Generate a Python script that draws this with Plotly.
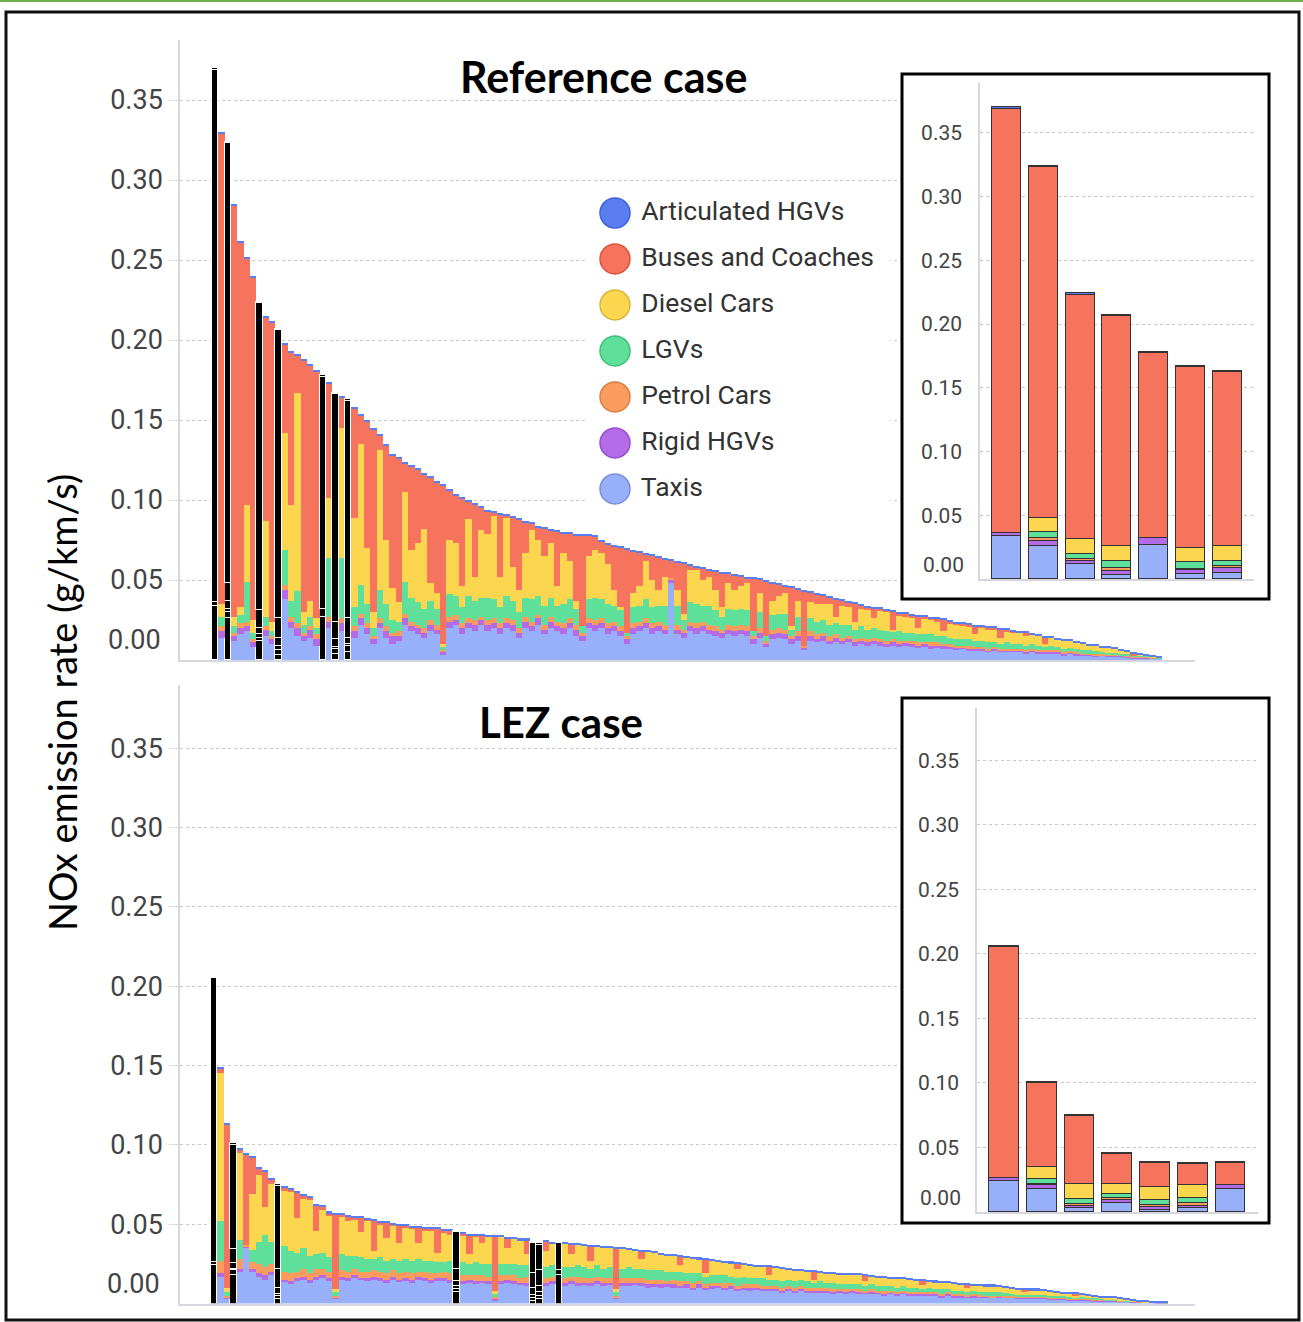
import plotly.graph_objects as go

# ---------------- DATA (values in mg/km/s = 0.001 g/km/s) ----------------
categories = ["Articulated HGVs", "Buses and Coaches", "Diesel Cars", "LGVs",
              "Petrol Cars", "Rigid HGVs", "Taxis"]
stack_order = ["Taxis", "Rigid HGVs", "Petrol Cars", "LGVs", "Diesel Cars",
               "Buses and Coaches", "Articulated HGVs"]
y_ticks = [0.05, 0.10, 0.15, 0.20, 0.25, 0.30, 0.35]
y_tick_labels = ["0.05", "0.10", "0.15", "0.20", "0.25", "0.30", "0.35"]

# Reference case (streets sorted by total NOx)
ref_taxis = [34,14,26,12,16,18,8,12,15,10, 3,38,20,15,12,14,9,27,20,4,
             18,5,14,22,16,10,20,14,10,12, 22,18,16,14,18,16,3,20,22,16,
             20,18,22,18,20,16,20,18,14,20, 18,22,16,20,18,16,20,15,12,20,
             18,20,16,18,15,10,16,18,20,16, 18,16,48,16,14,18,16,18,16,15,
             14,16,15,16,15,10,14,8,13,14, 13,10,12,6,12,11,12,10,11,10,
             11,9,10,9,10,9,8,9,8,9, 8,8,8,7,8,7,7,6,7,6,
             6,6,5,6,5,5,5,5,4,5, 4,4,4,4,3,4,3,3,3,2,
             2.5,2,2,2,1.5,1,1,1,1,0.8]
ref_rigid = [2,4,4,3,4,3,3,2,4,3, 3,6,4,5,3,5,4,5,4,3,
             5,4,4,4,4,3,3,4,5,3, 4,3,4,3,4,3,2,4,3,4,
             3,4,3,4,3,4,3,4,3,4, 3,4,3,4,3,4,3,4,3,3,
             4,3,4,3,3,3,4,3,3,4, 3,3,2,3,3,3,4,3,3,3,
             3,3,3,3,3,3,3,2,3,3, 3,3,3,2,3,2,3,2,3,2,
             2,2,2,2,2,2,2,2,2,2, 2,1,2,2,1,2,1,2,1,1,
             1,1,1,1,1,1,1,1,1,1, 1,1,1,1,1,0.5,1,0.5,0.5,1,
             0.5,0.5,0.5,0.5,0.5,0.5,0.5,0.5,0.2,0.2]
ref_petrol = [0,3,2,2,3,3,2,2,2,2, 3,3,3,3,2,2,3,0,3,1,
              3,1,3,3,3,2,3,3,2,3, 3,3,2,3,3,3,1,3,3,3,
              3,3,2,3,3,3,3,3,3,3, 3,2,3,3,3,3,3,3,2,3,
              3,3,3,3,3,2,3,3,3,3, 3,3,1,3,2,3,3,3,3,3,
              2,3,3,3,3,2,3,2,3,3, 3,2,3,1,3,3,2,3,2,2,
              2,2,2,2,2,2,2,2,2,1, 2,2,1,2,2,1,2,1,1,2,
              1,1,1,1,1,1,1,1,1,1, 1,1,1,1,1,1,1,0.5,0.5,0.5,
              0.5,0.5,0.5,0.5,0.5,0.5,0.5,0.5,0.3,0.2]
ref_lgv = [0,6,5,4,5,25,4,4,6,3, 5,22,10,20,5,6,4,0,37,5,
           38,4,12,18,12,5,18,14,8,6, 20,15,14,12,12,10,2,14,12,10,
           14,12,12,14,12,10,14,12,10,12, 14,12,12,12,10,12,12,10,4,12,
           14,12,12,10,10,2,10,10,12,10, 10,12,0,12,6,12,12,10,12,10,
           8,10,10,10,10,3,10,3,9,9, 10,4,9,0,8,8,8,7,7,8,
           7,6,7,6,6,6,6,5,6,5, 5,5,5,5,4,5,4,4,4,4,
           4,4,4,3,3,4,3,3,3,3, 3,2,3,2,2,2,2,2,2,2,
           1.5,1.5,1.5,1,1,0.5,0.5,0.5,0.3,0.2]
ref_diesel = [0,8,11,6,5,48,8,11,60,6, 12,73,60,124,8,10,6,0,37,11,
              81,12,56,88,35,10,87,40,20,12, 56,30,37,50,11,10,2,34,33,13,
              48,15,42,40,52,19,49,21,14,28, 43,35,31,34,12,32,24,5,0,27,
              30,29,25,10,2,0,9,12,24,17, 10,18,0,10,4,20,21,16,18,13,
              6,16,13,14,17,0,12,0,9,11, 13,2,10,0,10,11,10,13,4,12,
              11,5,11,12,6,12,12,1,10,10, 9,4,10,9,9,3,9,9,8,8,
              4,8,8,8,4,7,7,7,6,6, 6,2,5,5,5,4.5,4,4,3,3.5,
              3,3,2.5,2,1.5,0,1,0.5,0.2,0.1]
ref_buses = [333,294,275,257,228,154,214,192,127,187, 180,55,95,23,157,147,154,145,72,142,
             19,136,68,18,79,114,9,59,83,90, 18,52,46,34,66,69,99,31,30,55,
             11,45,14,14,2,39,1,31,44,19, 4,8,17,8,34,12,17,41,57,13,
             8,7,12,27,37,52,26,21,4,15, 20,11,11,17,31,3,2,7,4,11,
             21,6,9,6,3,33,8,34,11,7, 4,24,7,34,6,6,5,4,11,3,
             3,11,2,2,6,1,1,11,1,2, 2,7,1,1,2,7,1,1,2,1,
             5,1,1,1,5,1,1,0,2,0, 0,4,0,0,0,0,0,0,0,0,
             0,0,0,0,0,1.5,0,0,0,0]
ref_artic = [1,1,1,1,1,1,1,1,1,1, 1,1,1,1,1,1,1,1,1,1,
             1,1,1,1,1,1,1,1,1,1, 1,1,1,1,1,1,1,1,1,1,
             1,1,1,1,1,1,1,1,1,1, 1,1,1,1,1,1,1,1,1,1,
             1,1,1,1,1,1,1,1,1,1, 1,1,1,1,1,1,1,1,1,1,
             1,1,1,1,1,1,1,1,1,1, 1,1,1,1,1,1,1,1,1,1,
             1,1,1,1,1,1,1,1,1,1, 1,1,1,1,1,1,1,1,1,1,
             1,1,1,1,1,1,1,1,1,1, 1,1,1,1,1,1,1,1,1,1,
             1,1,1,1,1,1,1,1,1,1]
ref_highlight = [0, 2, 7, 10, 17, 19, 21]

# LEZ case
lez_taxis = [24,17,3,18,20,35,20,17,15,18, 3,14,12,14,15,13,15,16,14,3,
             15,14,16,15,14,15,14,13,15,14, 14,13,15,14,13,14,14,13,7,12,
             13,12,13,12,2,12,13,12,12,11, 1.5,3,11,12,18,11,12,11,12,11,
             12,11,12,3,11,11,12,11,10,11, 10,11,10,10,10,9,10,9,9,10,
             9,9,8,9,8,9,8,8,8,7, 8,7,8,7,7,7,7,6,7,6,
             7,6,6,6,6,5,6,5,6,5, 5,5,5,5,4,5,4,4,4,4,
             4,4,3.5,4,3.5,3.5,3,3,3,3, 3,2.5,2.5,2.5,2,2,2,2,1.5,1.5,
             1.5,1.5,1.2,1,0.8,0.6,0.5,0.4,0.3,0.2]
lez_rigid = [2,2,1,3,2,1,2,2,3,2, 1.5,1,2,2,2,2,2,2,2,1,
             2,2,2,1,2,2,2,2,2,1, 2,2,2,2,2,2,2,2,2,2,
             2,2,1,2,1,2,2,2,1,2, 2,2,2,2,3,2,2,2,1,2,
             2,2,1,1,2,2,1,2,2,1, 2,1,2,1,2,1,2,1,2,1,
             1,2,1,1,2,1,1,1,1,1, 1,1,1,1,1,1,1,1,1,1,
             1,1,1,1,1,1,1,1,1,1, 1,1,1,1,1,1,1,1,0.5,1,
             0.5,0.5,0.5,0.5,0.5,0.5,0.5,0.5,0.5,0.5, 0.5,0.5,0.5,0.5,0.5,0.5,0.5,0.5,0.5,0.5,
             0.3,0.3,0.3,0.3,0.2,0.2,0.1,0.1,0.05,0.05]
lez_petrol = [0,8,1,1,6,1,4,6,5,5, 1.5,5,5,4,5,4,5,4,4,1,
              4,4,4,4,4,4,4,4,4,4, 4,4,3,4,4,3,4,4,2,4,
              3,4,4,3,1,4,3,4,3,4, 2,2,3,3,0,3,3,4,3,3,
              3,3,3,1,3,3,3,3,3,3, 3,2,3,3,2,3,2,2,2,2,
              3,2,2,2,2,2,2,2,2,2, 2,2,2,2,2,2,2,2,1,2,
              1,2,1,2,1,2,1,1,1,1, 1,1,1,1,1,1,1,1,1,1,
              1,0.5,1,0.5,0.5,0.5,0.5,0.5,0.5,0.5, 0.5,0.5,0.5,0.5,0.5,0.5,0.5,0.5,0.5,0.5,
              0.2,0.2,0.2,0.2,0.2,0.2,0.1,0.1,0.05,0.05]
lez_lgv = [0,25,2,3.5,12,0,8,14,20,14, 4,16,14,12,13,11,9,10,9,2,
           10,10,8,9,8,7,9,8,7,8, 8,8,8,7,8,7,6,8,3,8,
           7,8,7,8,2,7,7,7,8,7, 4,4,7,7,0,7,6,7,7,6,
           7,6,7,2,6,7,6,6,6,6, 6,6,5,6,5,6,5,5,5,5,
           5,4,5,5,4,4,5,4,4,4, 4,4,4,4,3,4,3,4,3,3,
           3,3,3,3,3,3,3,3,3,3, 3,2,3,2,3,2,2,2,2,2,
           2,2,2,2,2,1.5,1.5,1.5,1.5,1.5, 1.5,1.5,1,1,1,1,1,1,1,0.5,
           0.5,0.5,0.5,0.4,0.3,0.2,0.1,0.1,0.05,0.05]
lez_diesel = [0,93,3,9,55,0,35,42,18,36, 12,35,37,22,31,35,15,27,26,2,
              24,22,23,16,24,5,21,14,21,11, 20,20,10,19,19,6,19,16,8,17,
              6,16,13,17,2,17,10,16,16,7, 10,10,10,14,0,14.5,8,13,13.5,5,
              12,13.5,12,2,12.5,11,11.5,6,11.5,11, 10,10.5,10,4,10,9.5,9,2,9,8.5,
              8,8.5,6,7.5,8,7.5,7,3,7.5,8, 6.5,7,5.5,6,2,5.5,6,6,6.5,6.5,
              6,6,3,5,5.5,5.5,5,6,4.5,5, 4.5,2.5,4,4.5,4,4,4.5,4,2.5,3.5,
              4,4,4,3.5,3.5,3.5,3.5,2,3,3, 2.5,2.5,2.5,2,2,1,1.5,1,1,1,
              1,1,0.8,0.6,0.5,0.3,0.2,0.1,0.05,0.05]
lez_buses = [179,3,103,65.5,2,57,23,4,22,3, 52,2,2,16,2,2,16,2,2,47,
             1,3,1,9,1,19,1,10,1,11, 1,1,10,1,1,15,1,3,23,1,
             12,1,5,0,34,0,6,0,0,9, 18.5,16,6,0,17,0,6,0,0,9,
             0,0,0,25.5,0,0,0,5,0,0, 0,0,0,5.5,0,0,0,8.5,0,0,
             0,0,3,0,0,0,0,5,0,0, 0,0,0,0,5,0,0,0,0,0,
             0,0,3.5,0,0,0,0,0,0,0, 0,3,0,0,0,0,0,0,2,0,
             0,0,0,0,0,0,0,1.5,0,0, 0,0,0,0,0,1,0,0,0,0,
             0,0,0,0,0,0,0,0,0,0]
lez_artic = [1,1,1,1,1,1,1,1,1,1, 1,1,1,1,1,1,1,1,1,1,
             1,1,1,1,1,1,1,1,1,1, 1,1,1,1,1,1,1,1,1,1,
             1,1,1,1,1,1,1,1,1,1, 1,1,1,1,1,1,1,1,1,1,
             1,1,1,1,1,1,1,1,1,1, 1,1,1,1,1,1,1,1,1,1,
             1,1,1,1,1,1,1,1,1,1, 1,1,1,1,1,1,1,1,1,1,
             1,1,1,1,1,1,1,1,1,1, 1,1,1,1,1,1,1,1,1,1,
             1,1,1,1,1,1,1,1,1,1, 1,1,1,1,1,1,1,1,1,1,
             1,1,1,1,1,1,1,1,1,0.6]
lez_highlight = [0, 3, 10, 38, 50, 51, 54]

ref_data = {"Taxis": ref_taxis, "Rigid HGVs": ref_rigid, "Petrol Cars": ref_petrol,
            "LGVs": ref_lgv, "Diesel Cars": ref_diesel, "Buses and Coaches": ref_buses,
            "Articulated HGVs": ref_artic}
lez_data = {"Taxis": lez_taxis, "Rigid HGVs": lez_rigid, "Petrol Cars": lez_petrol,
            "LGVs": lez_lgv, "Diesel Cars": lez_diesel, "Buses and Coaches": lez_buses,
            "Articulated HGVs": lez_artic}

# ---------------- STYLE ----------------
COL = {"Articulated HGVs": "#5a7ef2", "Buses and Coaches": "#f6735d",
       "Diesel Cars": "#fdd650", "LGVs": "#5fe09a", "Petrol Cars": "#f99c5e",
       "Rigid HGVs": "#b46be8", "Taxis": "#98affa"}
EDGE = {"Articulated HGVs": "#3f63d8", "Buses and Coaches": "#d9553f",
        "Diesel Cars": "#d9b43a", "LGVs": "#43bf7c", "Petrol Cars": "#d97e42",
        "Rigid HGVs": "#9350c9", "Taxis": "#7a90d8"}
AXC = "#d6d6e0"
GRIDC = "#c8c8c8"
TICKC = "#444444"

W, H = 1303, 1322


def fx(p):
    return p / W


def fy(p):
    return 1 - p / H


fig = go.Figure()


def add_main(data, highlight, xa, ya):
    n = len(data["Taxis"])
    xs = list(range(n))
    for cat in stack_order:
        fig.add_trace(go.Bar(
            x=xs, y=[v / 1000 for v in data[cat]], width=1,
            marker=dict(color=["#000000" if i in highlight else COL[cat] for i in xs],
                        line=dict(color="white", width=[1 if i in highlight else 0 for i in xs])),
            xaxis=xa, yaxis=ya, showlegend=False, hoverinfo="skip"))


def add_inset(data, highlight, xa, ya):
    xs = list(range(len(highlight)))
    for cat in stack_order:
        fig.add_trace(go.Bar(
            x=xs, y=[data[cat][i] / 1000 for i in highlight], width=0.79,
            marker=dict(color=COL[cat], line=dict(color="#333333", width=1.4)),
            xaxis=xa, yaxis=ya, showlegend=False, hoverinfo="skip"))


add_main(ref_data, ref_highlight, "x", "y")
add_main(lez_data, lez_highlight, "x2", "y2")
add_inset(ref_data, ref_highlight, "x3", "y3")
add_inset(lez_data, lez_highlight, "x4", "y4")

# custom legend with round swatches
fig.add_trace(go.Scatter(
    x=[0] * len(categories), y=list(range(len(categories) - 1, -1, -1)),
    mode="markers+text", text=[" " + c for c in categories], textposition="middle right",
    textfont=dict(family="Roboto", size=26.5, color="#333333"),
    marker=dict(size=30, color=[COL[c] for c in categories],
                line=dict(color=[EDGE[c] for c in categories], width=1.5)),
    xaxis="x5", yaxis="y5", showlegend=False, hoverinfo="skip", cliponaxis=False))

# ---------------- LAYOUT ----------------
n_ref = len(ref_taxis)
n_lez = len(lez_taxis)
u_ref = (1162 - 212) / n_ref
u_lez = (1168 - 211) / n_lez
xr_ref = [-0.5 - (212 - 180) / u_ref, n_ref - 0.5 + (1195 - 1162) / u_ref]
xr_lez = [-0.5 - (211 - 180) / u_lez, n_lez - 0.5 + (1195 - 1168) / u_lez]
yr_ref = (660 - 40) / 1600
yr_lez = (1303.5 - 685) / 1587


def main_x(dom, rng, anchor):
    return dict(domain=dom, range=rng, anchor=anchor, showticklabels=False, showgrid=False,
                zeroline=False, showline=True, linecolor=AXC, linewidth=1.5, ticks="")


def main_y(dom, top, anchor):
    return dict(domain=dom, range=[0, top], anchor=anchor, tickvals=y_ticks,
                ticktext=y_tick_labels,
                showgrid=True, gridcolor=GRIDC, griddash="dot", gridwidth=1,
                zeroline=False, showline=True, linecolor=AXC, linewidth=1.5,
                ticks="outside", ticklen=9, tickcolor="#dddddd",
                tickfont=dict(family="Roboto", size=27, color=TICKC),
                ticklabelstandoff=1)


def inset_x(dom, anchor):
    return dict(domain=dom, range=[-0.72, 6.73], anchor=anchor, showticklabels=False,
                showgrid=False, zeroline=False, showline=True, linecolor=AXC,
                linewidth=1.5, ticks="")


def inset_y(dom, top, anchor):
    return dict(domain=dom, range=[0, top], anchor=anchor, tickvals=y_ticks,
                ticktext=y_tick_labels,
                showgrid=True, gridcolor=GRIDC, griddash="dot", gridwidth=1,
                zeroline=False, showline=True, linecolor=AXC, linewidth=1.5, ticks="",
                tickfont=dict(family="Roboto", size=21, color=TICKC),
                ticklabelstandoff=12)


fig.update_layout(
    width=W, height=H, margin=dict(l=0, r=0, t=0, b=0),
    paper_bgcolor="white", plot_bgcolor="white",
    barmode="stack", bargap=0, showlegend=False,
    xaxis=main_x([fx(180), fx(1195)], xr_ref, "y"),
    yaxis=main_y([fy(660), fy(40)], yr_ref, "x"),
    xaxis2=main_x([fx(180), fx(1195)], xr_lez, "y2"),
    yaxis2=main_y([fy(1303.5), fy(685)], yr_lez, "x2"),
    xaxis3=inset_x([fx(980), fx(1254)], "y3"),
    yaxis3=inset_y([fy(579), fy(83)], (579 - 83) / 1275, "x3"),
    xaxis4=inset_x([fx(977), fx(1258)], "y4"),
    yaxis4=inset_y([fy(1212), fy(708)], (1212 - 708) / 1291, "x4"),
    xaxis5=dict(domain=[fx(595), fx(890)], range=[-20, 275], visible=False, anchor="y5"),
    yaxis5=dict(domain=[fy(510), fy(195)], range=[-0.457, 6.391], visible=False, anchor="x5"),
)

# inset frames
for (x0, y0, x1, y1) in [(902, 74, 1269, 599), (902, 698, 1269, 1223)]:
    fig.add_shape(type="rect", xref="paper", yref="paper",
                  x0=fx(x0), x1=fx(x1), y0=fy(y1), y1=fy(y0),
                  line=dict(color="black", width=3), fillcolor="rgba(0,0,0,0)", layer="above")

# outer frame and green rule
fig.add_shape(type="rect", xref="paper", yref="paper", x0=fx(6), x1=fx(1299),
              y0=fy(1320), y1=fy(12), line=dict(color="#111111", width=3),
              fillcolor="rgba(0,0,0,0)", layer="above")
fig.add_shape(type="line", xref="paper", yref="paper", x0=0, x1=1, y0=fy(1), y1=fy(1),
              line=dict(color="#70ad47", width=2), layer="above")


# white covers hiding the main gridlines behind the insets and legend
def cover(xa, ya, xr, top, dom_y, x0, x1, y0, y1):
    def dx(p):
        return xr[0] + (p - 180) / 1015 * (xr[1] - xr[0])

    def dy(p):
        return (dom_y[1] - p) / (dom_y[1] - dom_y[0]) * top

    fig.add_shape(type="rect", xref=xa, yref=ya, x0=dx(x0), x1=dx(x1),
                  y0=dy(y1), y1=dy(y0), fillcolor="white", line_width=0, layer="between")


cover("x", "y", xr_ref, yr_ref, (40, 660), 902, 1269, 74, 600)
cover("x", "y", xr_ref, yr_ref, (40, 660), 585, 890, 190, 512)
cover("x2", "y2", xr_lez, yr_lez, (685, 1303.5), 902, 1269, 698, 1225)

# titles and axis title
ann = [
    dict(text="<b>Reference case</b>", x=fx(603), y=fy(76),
         font=dict(family="Lato", size=43, color="black")),
    dict(text="<b>LEZ case</b>", x=fx(561), y=fy(722),
         font=dict(family="Lato", size=42, color="black")),
    dict(text="NOx emission rate (g/km/s)", x=fx(62), y=fy(703), textangle=-90,
         font=dict(family="Lato", size=38, color="black")),
]
for a in ann:
    fig.add_annotation(xref="paper", yref="paper", showarrow=False,
                       xanchor="center", yanchor="middle", **a)

# raised "0.00" labels
for yr, xp, sh, sz in [("y", 163, 20, 27), ("y2", 162, 20, 27),
                       ("y3", 966, 14, 21), ("y4", 963, 14, 21)]:
    fig.add_annotation(xref="paper", yref=yr, x=fx(xp), y=0, yshift=sh, text="0.00",
                       showarrow=False, xanchor="right", yanchor="middle",
                       font=dict(family="Roboto", size=sz, color=TICKC))

fig.write_html("out.html", config={"displayModeBar": False},
               post_script="document.body.style.margin='0px';")
